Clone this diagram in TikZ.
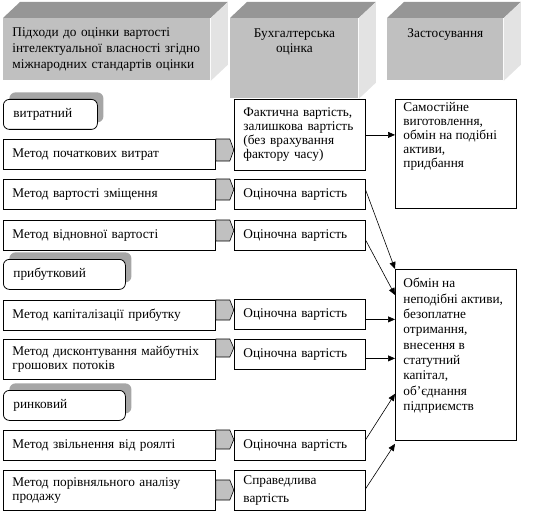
\documentclass[tikz,border=0pt]{standalone}
\usepackage{fontspec}
\setmainfont{Liberation Serif}
\usepackage{xcolor}
\usetikzlibrary{positioning, calc, arrows.meta, shadows}
\definecolor{frontgray}{HTML}{C0C0C0}
\definecolor{topgray}{HTML}{969696}
\definecolor{sidegray}{HTML}{E3E3E3}
\definecolor{shadegray}{HTML}{A6A6A6}
\newcommand{\toptext}[3]{\parbox[c][#2][t]{#1}{#3}}

\begin{document}
\begin{tikzpicture}[
    x=1pt, y=1pt,
    line width=0.8pt,
    font=\fontsize{13.3}{14}\selectfont,
    frontface/.style={rectangle, fill=frontgray, anchor=north west},
    topface/.style={fill=topgray},
    sideface/.style={fill=sidegray},
    methodbox/.style={rectangle, draw, fill=white, anchor=north west, minimum width=212pt, minimum height=30pt, text width=194pt, inner xsep=9pt, align=left},
    valuebox/.style={rectangle, draw, fill=white, anchor=north west, minimum width=131pt, minimum height=30pt, text width=113pt, inner xsep=9pt, align=left},
    groupbox/.style={rectangle, draw, fill=white, rounded corners=6pt, anchor=north west, minimum height=30pt, inner xsep=10pt, align=left, drop shadow={shadow xshift=6pt, shadow yshift=7pt, fill=shadegray, opacity=1}},
    usebox/.style={rectangle, draw, fill=white, anchor=north west, inner xsep=8pt},
    tabshape/.style={draw, fill=frontgray, line width=0.6pt},
    arr/.style={-{Triangle[length=7pt, width=6pt]}, line width=0.6pt}
]
\useasboundingbox (0,0) rectangle (534,-513);

% заголовки
\node[frontface, minimum width=207pt, minimum height=62pt, text width=189pt, inner xsep=9pt, align=left, font=\fontsize{13.3}{16}\selectfont] (approach) at (3,-18) {Підходи до оцінки вартості\\інтелектуальної власності згідно\\міжнародних стандартів оцінки};
\node[frontface, inner xsep=4pt, inner ysep=10pt, font=\fontsize{13.3}{15}\selectfont] (account) at (230,-18) {\toptext{120pt}{60pt}{\centering Бухгалтерська\\оцінка}};
\node[frontface, inner xsep=4pt, inner ysep=10pt] (usage) at (387,-18) {\toptext{108pt}{42pt}{\centering Застосування}};

\foreach \h in {approach, account, usage} {
    \fill[topface] (\h.north west) -- ++(17,16) -- ($(\h.north east)+(17,16)$) -- (\h.north east) -- cycle;
    \fill[sideface] (\h.north east) -- ++(17,16) -- ($(\h.south east)+(17,16)$) -- (\h.south east) -- cycle;
}

% підходи та методи
\node[groupbox, minimum width=94pt, text width=74pt] (cost) at (3,-99) {витратний};
\node[methodbox] (init) at (3,-139) {Метод початкових витрат};
\node[methodbox] (repl) at (3,-179) {Метод вартості зміщення};
\node[methodbox] (restore) at (3,-220) {Метод відновної вартості};

\node[groupbox, minimum width=122pt, text width=102pt] (income) at (3,-259) {прибутковий};
\node[methodbox] (capital) at (3,-300) {Метод капіталізації прибутку};
\node[methodbox, minimum height=40pt] (discount) at (3,-339) {Метод дисконтування майбутніх\\грошових потоків};

\node[groupbox, minimum width=122pt, text width=102pt] (market) at (3,-390) {ринковий};
\node[methodbox] (royalty) at (3,-430) {Метод звільнення від роялті};
\node[methodbox, minimum height=40pt] (compare) at (3,-470) {Метод порівняльного аналізу\\продажу};

% сірі стрілки-вкладки
\foreach \m/\t/\h in {init/0/22, repl/0/21, restore/0/21, capital/0/20, discount/0/18, royalty/0/19, compare/10/20}
    \draw[tabshape] ($(\m.north east)+(0,-\t)$) -- ++(14,0) -- ++(4,-\h/2) -- ++(-4,-\h/2) -- ++(-14,0) -- cycle;

% бухгалтерська оцінка
\node[valuebox, minimum height=71pt] (fact) at (234,-99) {Фактична вартість,\\залишкова вартість\\(без врахування\\фактору часу)};
\node[valuebox] (est1) at (234,-179) {Оціночна вартість};
\node[valuebox] (est2) at (234,-220) {Оціночна вартість};
\node[valuebox] (est3) at (234,-299) {Оціночна вартість};
\node[valuebox] (est4) at (234,-339) {Оціночна вартість};
\node[valuebox] (est5) at (234,-430) {Оціночна вартість};
\node[valuebox, minimum height=40pt] (fair) at (234,-470) {Справедлива\\[4pt]вартість};

% застосування
\node[usebox, inner ysep=2.5pt] (own) at (395,-99) {\toptext{105pt}{104pt}{\raggedright Самостійне\\виготовлення,\\обмін на подібні\\активи,\\придбання}};
\node[usebox, inner ysep=9pt, font=\fontsize{13.3}{15.3}\selectfont] (exch) at (395,-269) {\toptext{105pt}{153pt}{\raggedright Обмін на\\неподібні активи,\\безоплатне\\отримання,\\внесення в\\статутний\\капітал,\\об’єднання\\підприємств}};

% зв'язки
\draw[arr] (fact.east) -- (fact.east -| own.west);
\draw[arr] ($(est1.east)+(0,4)$) -- (exch.north west);
\draw[arr] ($(est2.east)+(0,-5)$) -- ($(exch.north west)+(0,-26)$);
\draw[arr] ($(est3.east)+(0,-5)$) -- ($(est3.east -| exch.west)+(0,-5)$);
\draw[arr] ($(est4.east)+(0,-4)$) -- ($(est4.east -| exch.west)+(0,-4)$);
\draw[arr] ($(est5.east)+(0,6)$) -- ($(exch.south west)+(0,47)$);
\draw[arr] ($(fair.east)+(0,2)$) -- ($(exch.south west)+(0,-3)$);

\end{tikzpicture}
\end{document}
